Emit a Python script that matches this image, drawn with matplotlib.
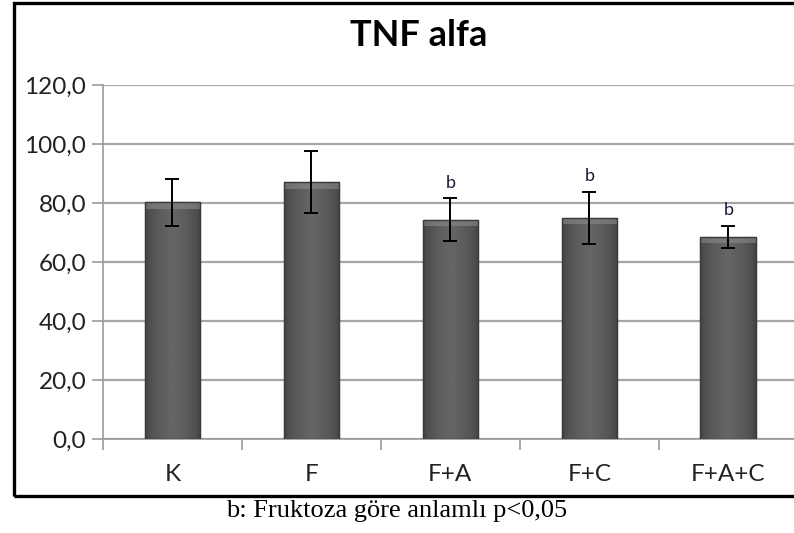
import matplotlib
matplotlib.use('Agg')
import matplotlib.pyplot as plt
import numpy as np
from matplotlib.patches import Rectangle

# veriler
groups = ['K', 'F', 'F+A', 'F+C', 'F+A+C']
tnf = [80.3, 87.1, 74.4, 75.0, 68.5]
sd = [8.0, 10.4, 7.2, 8.8, 3.8]
marks = ['', '', 'b', 'b', 'b']

plt.rcParams['font.family'] = ['Lato', 'DejaVu Sans']

fig = plt.figure(figsize=(7.94, 5.33), dpi=100)
ax = fig.add_axes([0.1297, 0.1764, 0.875, 0.6641])

x = np.arange(len(groups))
bars = ax.bar(x, tnf, width=0.4, color='#575757', edgecolor='#3a3a3a', linewidth=0.8, zorder=3)

# yatay gradyan (Excel görünümü)
grad = np.linspace(0, 1, 64)
shade = 1 - np.abs(grad - 0.5) * 2
img = (0.25 + 0.15 * shade ** 0.5)[None, :]
for b in bars:
    x0, w, h = b.get_x(), b.get_width(), b.get_height()
    im = ax.imshow(np.repeat(img, 2, axis=0), cmap='gray', vmin=0, vmax=1,
                   extent=[x0, x0 + w, 0, h], aspect='auto', zorder=3.5)
    im.set_clip_path(b)
    # üst kenar parlaklığı
    ax.add_patch(Rectangle((x0, h - 2.2), w, 2.2, color='#8a8a8a', alpha=0.6, zorder=3.6, lw=0))
    ax.add_patch(Rectangle((x0, 0), w, h, fill=False, edgecolor='#3a3a3a', lw=1.0, zorder=3.7))

ax.errorbar(x, tnf, yerr=sd, fmt='none', ecolor='black', elinewidth=1.4,
            capsize=5, capthick=1.4, zorder=4)

for xi, v, s, m in zip(x, tnf, sd, marks):
    if m:
        ax.text(xi, v + s + 2.5, m, ha='center', va='bottom', fontsize=13, color='#1a1a3a', zorder=5)

ax.set_xlim(-0.5, len(groups) - 0.5)
ax.set_ylim(0, 120)
ax.set_yticks(np.arange(0, 121, 20))
ax.set_yticklabels([f'{v:.1f}'.replace('.', ',') for v in np.arange(0, 121, 20)], fontsize=17.5, color='#222222')
ax.set_xticks(x)
ax.set_xticklabels(groups, fontsize=17.5, color='#222222')
ax.set_xticks(np.arange(-0.5, len(groups)), minor=True)
ax.tick_params(axis='x', which='major', length=0, pad=18)
ax.tick_params(axis='x', which='minor', length=8, color='#9a9a9a', width=1.2, direction='out')
ax.tick_params(axis='y', length=8, color='#9a9a9a', width=1.2, pad=4)

ax.grid(axis='y', color='#a6a6a6', linewidth=1.6, zorder=0)
for side in ['top', 'right']:
    ax.spines[side].set_visible(False)
ax.spines['left'].set_color('#9a9a9a')
ax.spines['left'].set_linewidth(1.2)
ax.spines['bottom'].set_color('#9a9a9a')
ax.spines['bottom'].set_linewidth(1.2)

fig.text(0.527, 0.933, 'TNF alfa', ha='center', va='center', fontsize=26, fontweight='bold')

# grafik çerçevesi
fig.patches.append(Rectangle((0.0176, 0.0694), 1.2, 0.925, transform=fig.transFigure,
                             fill=False, edgecolor='black', linewidth=2.4))

fig.text(0.5, 0.041, 'b: Fruktoza göre anlamlı p<0,05', ha='center', va='center',
         fontsize=19, family=['Liberation Serif', 'DejaVu Serif'])

plt.savefig('out.png', dpi=100)
